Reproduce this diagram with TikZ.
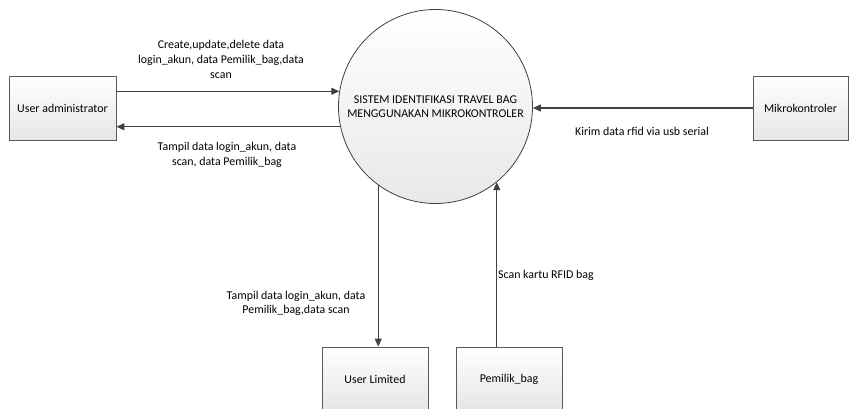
\documentclass[tikz,border=0pt]{standalone}
\usepackage{fontspec}
\setmainfont{Carlito}
\usetikzlibrary{arrows.meta}
\begin{document}
\begin{tikzpicture}[x=1pt,y=-1pt,
	every node/.style={font=\fontsize{11.9}{14.6}\selectfont, inner sep=0pt},
	entity/.style={draw=black!65, line width=0.8pt, top color=white, bottom color=black!10, minimum height=64pt},
	proc/.style={draw=black!75, line width=0.8pt, circle, top color=white, bottom color=black!9, minimum size=194pt, align=center},
	flow/.style={draw=black!75, line width=1.2pt, -{Triangle[length=8pt,width=7pt]}},
	lbl/.style={align=center}]
				\clip (0,0) rectangle (850,408);
				% entitas luar dan proses
				\node[entity, minimum width=107pt] (admin) at (62.5,108) {User administrator};
				\node[proc] (sys) at (435.5,106.5) {SISTEM IDENTIFIKASI TRAVEL BAG\\MENGGUNAKAN MIKROKONTROLER};
				\node[entity, minimum width=95pt] (mikro) at (800.5,108) {Mikrokontroler};
				\node[entity, minimum width=106pt] (ulim) at (375,379) {User Limited};
				\node[entity, minimum width=106pt] (pemilik) at (509,379) {Pemilik\_bag};
				% label aliran data
				\node[lbl] (l1) at (221,59.5) {Create,update,delete data\\login\_akun, data Pemilik\_bag,data\\scan};
				\node[lbl] (l2) at (227,155) {Tampil data login\_akun, data\\scan, data Pemilik\_bag};
				\node (l3) at (642,131) {Kirim data rfid via usb serial};
				\node[lbl] (l4) at (296,303.5) {Tampil data login\_akun, data\\Pemilik\_bag,data scan};
				\node[anchor=west] (l5) at (498,275) {Scan kartu RFID bag};
				% aliran
				\draw[flow] (admin.east |- sys.171) -- (sys.171);
				\draw[flow] (sys.192) -- (sys.192 -| admin.east);
				\draw[flow] (mikro.west) -- (mikro.west -| sys.east);
				\draw[flow] (sys.234) -- (sys.234 |- ulim.north);
				\draw[flow] (sys.309 |- pemilik.north) -- (sys.309);
\end{tikzpicture}
\end{document}
